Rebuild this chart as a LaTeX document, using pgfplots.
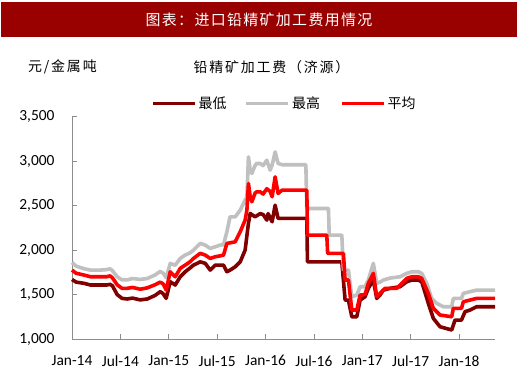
\documentclass[border=0pt]{standalone}
\usepackage{pgfplots}
\pgfplotsset{compat=1.18}
\usepackage{fontspec}
\setmainfont{Carlito}
\newfontfamily\cjk{Noto Sans CJK SC}
\newfontfamily\cjkwide[LetterSpace=13]{Noto Sans CJK SC}
\newfontfamily\cjktitle[LetterSpace=9]{Noto Sans CJK SC}
\definecolor{barred}{RGB}{153,0,0}
\definecolor{cdark}{RGB}{128,0,0}
\definecolor{cgray}{RGB}{192,192,192}
\definecolor{cred}{RGB}{255,0,0}
\definecolor{axgray}{RGB}{140,140,140}
\begin{document}
\begin{tikzpicture}[x=1bp,y=1bp]
\path[fill=white] (0,0) rectangle (520,375);
\fill[barred] (1,338) rectangle (517,373);
\node[text=white, font=\cjktitle\fontsize{15}{15}\selectfont] at (259,355.5) {图表：进口铅精矿加工费用情况};
\node[font=\cjkwide\fontsize{14}{14}\selectfont, anchor=west, inner sep=0] at (28,308) {元/金属吨};
\node[font=\cjkwide\fontsize{14}{14}\selectfont] at (271.5,308) {铅精矿加工费（济源）};
\begin{axis}[
  at={(72bp,36bp)}, anchor=south west,
  scale only axis, width=423bp, height=222.3bp,
  xmin=0, xmax=52.46, ymin=1000, ymax=3500,
  axis x line*=bottom, axis y line*=left,
  axis line style={axgray, line width=0.8bp},
  tick style={axgray, line width=0.8bp},
  tick align=inside, major tick length=5bp,
  xtick={0,6,12,18,24,30,36,42,48},
  xticklabels={Jan-14,Jul-14,Jan-15,Jul-15,Jan-16,Jul-16,Jan-17,Jul-17,Jan-18},
  ytick={1000,1500,2000,2500,3000,3500},
  scaled y ticks=false,
  /pgf/number format/.cd, 1000 sep={,}, assume math mode=true, /pgfplots/.cd,
  tick label style={font=\fontsize{15.5}{15.5}\selectfont, text=black},
  yticklabel style={xshift=-14bp},
  xticklabel style={yshift=-13bp},
  legend style={at={(0.184,1.06)}, anchor=west, draw=none, fill=none,
    font=\cjk\fontsize{14}{14}\selectfont, inner sep=1bp},
  legend columns=3,
  legend image code/.code={\draw[#1, line width=3.6bp] (0bp,0bp) -- (42bp,0bp);},
  clip=false,
]
\addplot[cdark, line width=3.6bp, line join=round] coordinates {
(0,1670) (0.5,1640) (1.5,1626) (2.3,1607) (4.3,1607) (4.7,1615) (5.0,1600) (5.6,1500) (6.2,1457) (6.85,1450) (7.5,1460) (8.46,1440) (9.33,1450) (10.3,1490) (10.94,1532) (11.3,1510) (11.68,1457) (12.18,1644) (12.8,1607) (13.42,1700) (14.04,1756) (14.66,1800) (15.07,1831) (15.9,1868) (16.52,1851) (17.14,1775) (17.76,1831) (18.38,1831) (18.79,1831) (19.21,1756) (19.6,1775) (20.24,1812) (20.86,1868) (21.47,2000) (21.88,2300) (22.1,2412) (22.7,2374) (23.33,2410) (23.7,2400) (24.16,2337) (24.32,2410) (24.82,2318) (25.19,2505) (25.56,2356) (26.06,2356) (29.12,2356) (29.2,1868) (33.46,1868) (33.87,1438) (34.28,1438) (34.7,1250) (35.32,1250) (35.73,1438) (36.34,1475) (36.75,1570) (37.37,1663) (37.79,1457) (38.2,1494) (38.61,1550) (39.44,1570) (40.68,1588) (41.51,1644) (42.13,1663) (42.95,1663) (43.37,1644) (44.19,1401) (44.81,1232) (45.64,1138) (47.09,1101) (47.5,1213) (48.3,1213) (48.74,1307) (49.36,1326) (50.19,1363) (52.46,1363)
};
\addlegendentry{最低\hspace*{16bp}}
\addplot[cgray, line width=3.6bp, line join=round] coordinates {
(0,1860) (0.5,1820) (1.5,1790) (2.3,1775) (3.5,1775) (4.3,1780) (4.7,1790) (5.0,1770) (5.6,1700) (6.2,1665) (6.85,1665) (7.5,1680) (8.46,1670) (9.33,1680) (10.3,1720) (10.94,1760) (11.3,1740) (11.68,1690) (12.18,1850) (12.8,1830) (13.42,1906) (14.04,1944) (14.66,1970) (15.07,2000) (15.9,2075) (16.52,2056) (17.14,2019) (17.76,2037) (18.38,2056) (18.79,2060) (19.21,2206) (19.6,2374) (20.24,2374) (20.86,2449) (21.26,2524) (21.69,2599) (21.88,3048) (22.1,2900) (22.3,2862) (22.7,2950) (22.9,2974) (23.33,2974) (23.7,2950) (24.16,3011) (24.57,2899) (24.82,2955) (25.19,3104) (25.56,2974) (26.06,2960) (29.0,2960) (29.12,2468) (31.8,2468) (31.9,2168) (33.46,2168) (33.66,1775) (34.28,1775) (34.7,1475) (35.32,1494) (35.73,1588) (36.34,1588) (36.75,1663) (37.37,1851) (37.79,1626) (38.2,1640) (38.61,1663) (39.44,1685) (40.68,1700) (41.51,1738) (42.13,1756) (42.95,1756) (43.37,1738) (43.99,1626) (44.61,1457) (45.23,1401) (46.05,1363) (47.09,1363) (47.29,1457) (48.3,1457) (48.53,1513) (49.36,1532) (50.19,1550) (52.46,1550)
};
\addlegendentry{最高\hspace*{18bp}}
\addplot[cred, line width=3.6bp, line join=round] coordinates {
(0,1775) (0.5,1740) (1.5,1719) (2.3,1700) (4.3,1700) (4.7,1710) (5.0,1690) (5.6,1610) (6.2,1570) (6.85,1570) (7.5,1580) (8.46,1560) (9.33,1575) (10.3,1610) (10.94,1640) (11.3,1620) (11.68,1550) (12.18,1756) (12.8,1700) (13.42,1794) (14.04,1831) (14.66,1870) (15.07,1906) (15.9,1963) (16.52,1944) (17.14,1906) (17.76,1925) (18.38,1935) (18.79,1944) (19.21,2075) (20.24,2093) (20.86,2206) (21.47,2337) (21.69,2449) (21.88,2749) (22.1,2600) (22.3,2543) (22.7,2640) (22.9,2655) (23.33,2655) (23.7,2630) (24.16,2690) (24.57,2660) (24.82,2599) (25.19,2824) (25.56,2637) (26.06,2674) (29.12,2674) (29.2,2168) (31.6,2168) (31.7,1963) (33.66,1963) (33.87,1663) (34.28,1663) (34.7,1326) (35.32,1326) (35.73,1494) (36.34,1500) (36.75,1626) (37.37,1738) (37.79,1475) (38.2,1513) (38.82,1570) (40.27,1570) (40.68,1607) (41.51,1682) (42.13,1700) (42.95,1700) (43.37,1682) (44.19,1513) (44.81,1345) (45.64,1270) (47.09,1250) (47.29,1345) (48.3,1345) (48.53,1419) (49.36,1438) (50.19,1457) (52.46,1457)
};
\addlegendentry{平均}
\end{axis}
\end{tikzpicture}
\end{document}
